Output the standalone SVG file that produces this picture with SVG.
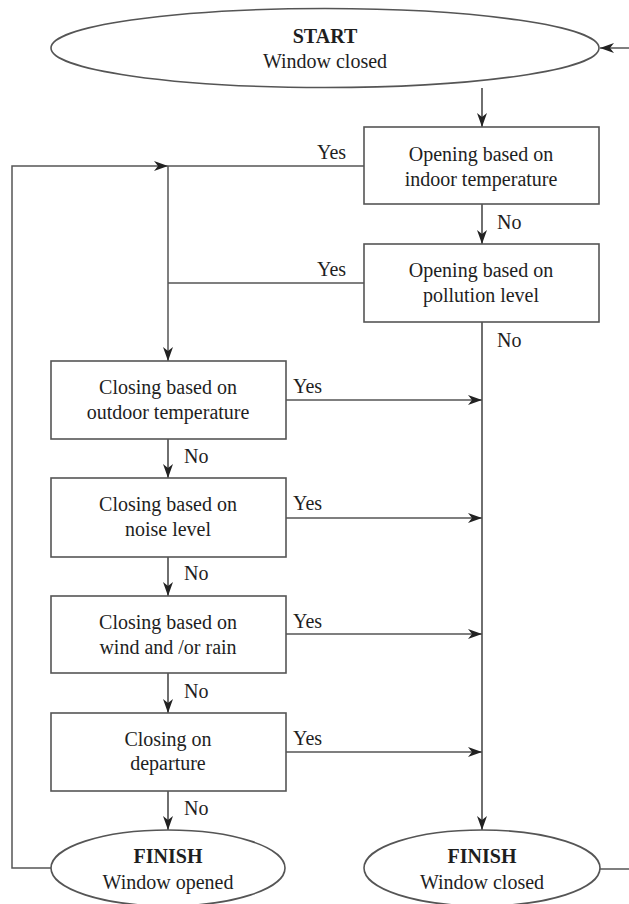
<svg xmlns="http://www.w3.org/2000/svg" width="629" height="904" viewBox="0 0 629 904">
  <style>
    .shape { fill: #ffffff; stroke: #555; stroke-width: 1.6; }
    .wire { fill: none; stroke: #555; stroke-width: 1.5; }
    .trunk { fill: none; stroke: #222; stroke-width: 1.3; }
    text { font-family: 'Liberation Serif', 'Times New Roman', serif; font-size: 20px; fill: #1e1e1e; text-anchor: middle; }
    .lbl { text-anchor: start; }
    .bold { font-weight: bold; }
  </style>
  <defs>
    <marker id="arrow" viewBox="0 0 14 10" refX="14" refY="5" markerWidth="14" markerHeight="10" markerUnits="userSpaceOnUse" orient="auto">
      <path d="M0,0 L14,5 L0,10 L4,5 Z" fill="#222"/>
    </marker>
  </defs>
  <rect width="629" height="904" fill="#ffffff"/>

  <g id="connectors">
    <!-- return from closed finish into start -->
    <path class="wire" d="M629,48 L600,48" marker-end="url(#arrow)"/>
    <!-- start to first check -->
    <path class="trunk" d="M482,88 L482,127" marker-end="url(#arrow)"/>
    <!-- opening checks, No path -->
    <path class="trunk" d="M482,204 L482,244" marker-end="url(#arrow)"/>
    <!-- right trunk to closed finish -->
    <path class="trunk" d="M482,322 L482,830" marker-end="url(#arrow)"/>
    <!-- loop from opened finish back to the closing checks -->
    <path class="wire" d="M51,868 L12,868 L12,166 L168,166" marker-end="url(#arrow)"/>
    <path class="wire" d="M168,166 L364,166"/>
    <path class="wire" d="M168,283 L364,283"/>
    <path class="wire" d="M168,166 L168,361" marker-end="url(#arrow)"/>
    <!-- closing checks, No path -->
    <path class="trunk" d="M168,439 L168,478" marker-end="url(#arrow)"/>
    <path class="trunk" d="M168,557 L168,596" marker-end="url(#arrow)"/>
    <path class="trunk" d="M168,673 L168,713" marker-end="url(#arrow)"/>
    <path class="trunk" d="M168,791 L168,830" marker-end="url(#arrow)"/>
    <!-- closing checks, Yes path -->
    <path class="wire" d="M286,400 L482,400" marker-end="url(#arrow)"/>
    <path class="wire" d="M286,518 L482,518" marker-end="url(#arrow)"/>
    <path class="wire" d="M286,634 L482,634" marker-end="url(#arrow)"/>
    <path class="wire" d="M286,752 L482,752" marker-end="url(#arrow)"/>
    <!-- closed finish continues off to the right -->
    <path class="wire" d="M600,869 L629,869"/>

    <text class="lbl" x="317" y="159">Yes</text>
    <text class="lbl" x="317" y="276">Yes</text>
    <text class="lbl" x="497" y="229">No</text>
    <text class="lbl" x="497" y="347">No</text>
    <text class="lbl" x="293" y="393">Yes</text>
    <text class="lbl" x="293" y="510">Yes</text>
    <text class="lbl" x="293" y="628">Yes</text>
    <text class="lbl" x="293" y="745">Yes</text>
    <text class="lbl" x="184" y="463">No</text>
    <text class="lbl" x="184" y="580">No</text>
    <text class="lbl" x="184" y="698">No</text>
    <text class="lbl" x="184" y="815">No</text>
  </g>

  <g id="start">
    <ellipse class="shape" cx="325" cy="48" rx="274" ry="39.5"/>
    <text class="bold" x="325" y="43">START</text>
    <text x="325" y="68">Window closed</text>
  </g>

  <g id="open-indoor">
    <rect class="shape" x="364" y="127" width="235" height="77"/>
    <text x="481" y="161">Opening based on</text>
    <text x="481" y="186">indoor temperature</text>
  </g>

  <g id="open-pollution">
    <rect class="shape" x="364" y="244" width="235" height="78"/>
    <text x="481" y="277">Opening based on</text>
    <text x="481" y="302">pollution level</text>
  </g>

  <g id="close-outdoor">
    <rect class="shape" x="51" y="361" width="235" height="78"/>
    <text x="168" y="394">Closing based on</text>
    <text x="168" y="419">outdoor temperature</text>
  </g>

  <g id="close-noise">
    <rect class="shape" x="51" y="478" width="235" height="79"/>
    <text x="168" y="511">Closing based on</text>
    <text x="168" y="536">noise level</text>
  </g>

  <g id="close-wind">
    <rect class="shape" x="51" y="596" width="235" height="77"/>
    <text x="168" y="629">Closing based on</text>
    <text x="168" y="654">wind and /or rain</text>
  </g>

  <g id="close-departure">
    <rect class="shape" x="51" y="713" width="235" height="78"/>
    <text x="168" y="746">Closing on</text>
    <text x="168" y="770">departure</text>
  </g>

  <g id="finish-opened">
    <ellipse class="shape" cx="168" cy="868" rx="117" ry="38"/>
    <text class="bold" x="168" y="863">FINISH</text>
    <text x="168" y="889">Window opened</text>
  </g>

  <g id="finish-closed">
    <ellipse class="shape" cx="482" cy="868" rx="118" ry="38"/>
    <text class="bold" x="482" y="863">FINISH</text>
    <text x="482" y="889">Window closed</text>
  </g>
</svg>
